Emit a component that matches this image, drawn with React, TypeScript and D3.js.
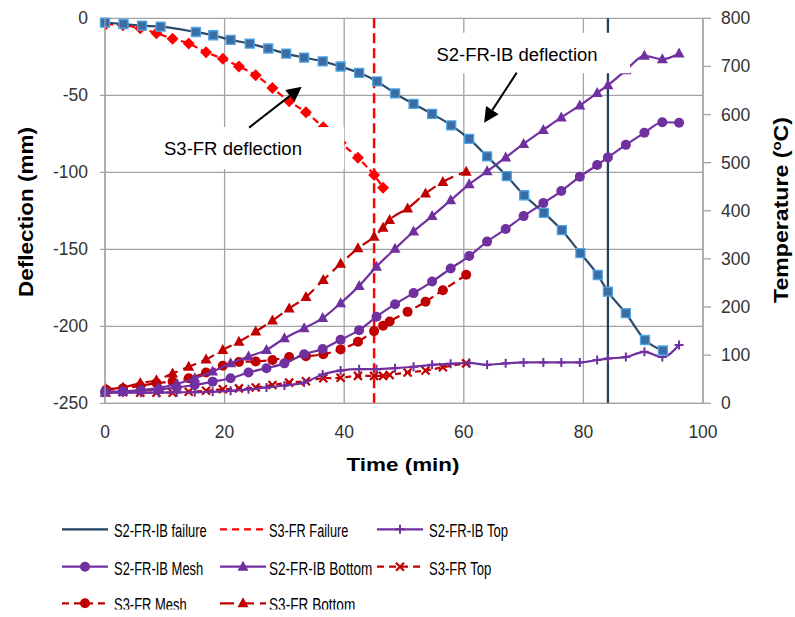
import React from 'react';
import * as d3 from 'd3';

// ---------- DATA ----------
const xTicks = [0, 20, 40, 60, 80, 100];
const leftTicks = [0, -50, -100, -150, -200, -250];
const rightTicks = [0, 100, 200, 300, 400, 500, 600, 700, 800];

// S2-FR-IB deflection (mm)
const s2DefTime = [0, 3.1, 6.2, 9.3, 15.2, 18.1, 21.0, 24.2, 27.3, 30.3, 33.3, 36.4, 39.4, 42.5, 45.5, 48.5, 51.6, 54.7, 57.9, 60.9, 63.9, 67.2, 70.1, 73.4, 76.4, 79.5, 82.4, 84.1, 87.1, 90.3, 93.3];
const s2Deflection = [-2.8, -3.7, -4.8, -5.4, -8.9, -11, -14, -16.4, -19.6, -22.9, -25.5, -28, -31.3, -35.4, -41, -48.8, -55.6, -62.1, -69.5, -78.3, -89.7, -102.5, -114.9, -126.3, -137.6, -152.5, -166.7, -177.5, -191.5, -208.9, -215.7];

// S2-FR-IB temperatures (°C)
const s2TempTime = [0, 3, 6, 9, 12, 15, 18, 21, 24, 27, 30, 33.3, 36.4, 39.4, 42.5, 45.4, 48.5, 51.6, 54.7, 57.8, 60.9, 63.9, 67.0, 70.0, 73.3, 76.3, 79.4, 82.3, 84.1, 87.1, 90.2, 93.2, 96.0];
const s2Top = [22, 22, 22, 22, 23, 23, 24, 26, 29, 33, 37, 43, 60, 68, 71, 71, 73, 76, 80, 82, 84, 80, 83, 85, 85, 85, 85, 90, 93, 96, 107, 96, 121];
const s2Mesh = [24, 25, 27, 29, 33, 38, 45, 52, 64, 73, 83, 102, 113, 132, 152, 180, 206, 229, 253, 280, 306, 336, 362, 389, 416, 441, 471, 495, 511, 537, 562, 584, 583];
const s2Bottom = [22, 24, 27, 32, 40, 52, 66, 83, 97, 111, 135, 156, 177, 208, 244, 284, 321, 357, 389, 422, 455, 482, 511, 539, 568, 594, 619, 645, 661, 692, 722, 715, 727];

// S3-FR
const s3Time = [0.2, 3.0, 5.9, 8.6, 11.3, 14.0, 16.9, 19.7, 22.4, 25.2, 28.0, 30.8, 33.6, 36.5, 39.4, 42.3, 45.0, 46.5, 47.6, 50.6, 53.6, 56.5, 60.4];
const s3Deflection = [-3.7, -4.5, -6.5, -9.7, -13.2, -16.4, -22, -26.3, -31.3, -36.9, -45.3, -53.9, -61, -70.8, -80.8, -90.6, -101.8, -110];
const s3Top = [22, 23, 22, 22, 22, 24, 26, 29, 31, 33, 38, 43, 46, 52, 53, 57, 57, 57, 59, 64, 68, 75, 83];
const s3Mesh = [28, 31, 36, 42, 45, 52, 64, 78, 86, 87, 90, 96, 98, 102, 112, 128, 150, 161, 170, 190, 211, 235, 267];
const s3Bottom = [29, 33, 42, 48, 62, 76, 91, 111, 128, 149, 172, 197, 221, 256, 290, 322, 346, 365, 381, 405, 436, 460, 481];

// failure times (min)
const s2FailureTime = 84.1;
const s3FailureTime = 45.0;

// ---------- STYLE ----------
const NAVY = '#2B4A6C';
const NAVY_FAIL = '#22405F';
const SQ_FILL = '#3C6CA4';
const SQ_STROKE = '#4EA5E4';
const RED = '#FF0000';
const DRED = '#C00000';
const PURPLE = '#7030A0';
const GRID = '#A3A3A3';
const FONT = '"Liberation Sans", Arial, Helvetica, sans-serif';

type Marker = 'square' | 'diamond' | 'triangle' | 'circle' | 'plus' | 'cross' | 'none';

function MarkerShape({ type, cx, cy, color, fill, stroke }: { type: Marker; cx: number; cy: number; color: string; fill?: string; stroke?: string }) {
  const t = `translate(${cx},${cy})`;
  switch (type) {
    case 'square': {
      const s = 9;
      return <path transform={t} d={`M${-s / 2},${-s / 2}h${s}v${s}h${-s}Z`} fill={fill || color} stroke={stroke || color} strokeWidth={1.3} />;
    }
    case 'diamond': {
      const s = 12;
      return <path transform={t} d={`M0,${-s / 2}L${s / 2},0L0,${s / 2}L${-s / 2},0Z`} fill={color} />;
    }
    case 'triangle': {
      const w = 11, h = 10;
      return <path transform={t} d={`M0,${-h * 0.6}L${w / 2},${h * 0.4}L${-w / 2},${h * 0.4}Z`} fill={color} />;
    }
    case 'circle':
      return <circle cx={cx} cy={cy} r={5} fill={color} />;
    case 'plus': {
      const s = 4.5;
      return <path transform={t} d={`M${-s},0H${s}M0,${-s}V${s}`} stroke={color} strokeWidth={2} fill="none" />;
    }
    case 'cross': {
      const s = 4;
      return <path transform={t} d={`M${-s},${-s}L${s},${s}M${-s},${s}L${s},${-s}`} stroke={color} strokeWidth={2.2} fill="none" />;
    }
    default:
      return null;
  }
}

export default function App() {
  const left = 105, right = 703, top = 18.3, bottom = 403.3;
  const x = d3.scaleLinear().domain([0, 100]).range([left, right]);
  const yL = d3.scaleLinear().domain([-250, 0]).range([bottom, top]);
  const yR = d3.scaleLinear().domain([0, 800]).range([bottom, top]);

  const mkLine = (ys: (v: number) => number) =>
    d3.line<[number, number]>().x(d => x(d[0])).y(d => ys(d[1])).curve(d3.curveMonotoneX);

  const zip = (a: number[], b: number[]) => b.map((v, i) => [a[i], v] as [number, number]);

  const series = [
    { name: 'S3-FR Top', pts: zip(s3Time, s3Top), axis: yR, color: DRED, dash: '6,4', marker: 'cross' as Marker },
    { name: 'S3-FR Mesh', pts: zip(s3Time, s3Mesh), axis: yR, color: DRED, dash: '8,5', marker: 'circle' as Marker },
    { name: 'S3-FR Bottom', pts: zip(s3Time, s3Bottom), axis: yR, color: DRED, dash: '14,6', marker: 'triangle' as Marker },
    { name: 'S2-FR-IB Top', pts: zip(s2TempTime, s2Top), axis: yR, color: PURPLE, dash: undefined, marker: 'plus' as Marker },
    { name: 'S2-FR-IB Mesh', pts: zip(s2TempTime, s2Mesh), axis: yR, color: PURPLE, dash: undefined, marker: 'circle' as Marker },
    { name: 'S2-FR-IB Bottom', pts: zip(s2TempTime, s2Bottom), axis: yR, color: PURPLE, dash: undefined, marker: 'triangle' as Marker },
    { name: 'S3-FR deflection', pts: zip(s3Time, s3Deflection), axis: yL, color: RED, dash: '7,4', marker: 'diamond' as Marker },
    { name: 'S2-FR-IB deflection', pts: zip(s2DefTime, s2Deflection), axis: yL, color: NAVY, dash: undefined, marker: 'square' as Marker },
  ];

  // legend
  const legendItems = [
    { label: 'S2-FR-IB failure', color: NAVY_FAIL, dash: undefined, marker: 'none' as Marker, w: 92.7 },
    { label: 'S3-FR Failure', color: RED, dash: '7,5', marker: 'none' as Marker, w: 79.3 },
    { label: 'S2-FR-IB Top', color: PURPLE, dash: undefined, marker: 'plus' as Marker, w: 79 },
    { label: 'S2-FR-IB Mesh', color: PURPLE, dash: undefined, marker: 'circle' as Marker, w: 89.3 },
    { label: 'S2-FR-IB Bottom', color: PURPLE, dash: undefined, marker: 'triangle' as Marker, w: 103.3 },
    { label: 'S3-FR Top', color: DRED, dash: '7,5', marker: 'cross' as Marker, w: 62.3 },
    { label: 'S3-FR Mesh', color: DRED, dash: '7,5', marker: 'circle' as Marker, w: 72.7 },
    { label: 'S3-FR Bottom', color: DRED, dash: '14,6', marker: 'triangle' as Marker, w: 86.3 },
  ];
  const colX = [62, 220, 377];
  const colTextOff = [52, 49, 52];
  const rowY = [529.3, 566.7, 603.3];
  const lineLen = 46;

  // annotation geometry in data space
  const s3Box = { t0: 4.2, t1: 40.0, d0: -70.6, d1: -97.9 };
  const s2Box = { t0: 52.7, t1: 87.8, d0: -9.4, d1: -35.7 };
  const arrows = [
    { from: [24.1, -71.0], to: [32.9, -44.4] },
    { from: [68.85, -35.3], to: [63.4, -67.8] },
  ];

  const arrowEls = arrows.map((a, i) => {
    const x1 = x(a.from[0]), y1 = yL(a.from[1]);
    const x2 = x(a.to[0]), y2 = yL(a.to[1]);
    const ang = Math.atan2(y2 - y1, x2 - x1);
    const hl = 15, hw = 7.5;
    const bx = x2 - hl * Math.cos(ang), by = y2 - hl * Math.sin(ang);
    const px = -Math.sin(ang) * hw, py = Math.cos(ang) * hw;
    return (
      <g key={i}>
        <line x1={x1} y1={y1} x2={bx} y2={by} stroke="#000" strokeWidth={2} />
        <path d={`M${x2},${y2}L${bx + px},${by + py}L${bx - px},${by - py}Z`} fill="#000" />
      </g>
    );
  });

  return (
    <svg width={795} height={617} style={{ position: 'absolute', left: 0, top: 0, background: '#fff' }} fontFamily={FONT}>
      <defs>
        <clipPath id="legclip">
          <rect x={0} y={0} width={795} height={609.5} />
        </clipPath>
      </defs>
      <rect x={0} y={0} width={795} height={617} fill="#fff" />

      {/* gridlines */}
      {leftTicks.map(v => (
        <line key={'hg' + v} x1={left - 5} x2={right} y1={yL(v)} y2={yL(v)} stroke={GRID} strokeWidth={1.3} />
      ))}
      {xTicks.map(v => (
        <line key={'vg' + v} x1={x(v)} x2={x(v)} y1={top} y2={bottom} stroke={GRID} strokeWidth={1.3} />
      ))}
      {rightTicks.map(v => (
        <line key={'rt' + v} x1={right} x2={right + 8} y1={yR(v)} y2={yR(v)} stroke={GRID} strokeWidth={1.3} />
      ))}

      {/* failure lines */}
      <line x1={x(s2FailureTime)} x2={x(s2FailureTime)} y1={top} y2={bottom} stroke={NAVY_FAIL} strokeWidth={2.3} />
      <line x1={x(s3FailureTime)} x2={x(s3FailureTime)} y1={top} y2={bottom} stroke={RED} strokeWidth={2.5} strokeDasharray="10,5" />

      {/* series */}
      {series.map(s => (
        <g key={s.name}>
          <path d={mkLine(s.axis)(s.pts) || ''} fill="none" stroke={s.color} strokeWidth={2.2} strokeDasharray={s.dash} />
          {s.pts.map((p, i) => (
            <MarkerShape key={i} type={s.marker} cx={x(p[0])} cy={s.axis(p[1])} color={s.color}
              fill={s.marker === 'square' ? SQ_FILL : undefined} stroke={s.marker === 'square' ? SQ_STROKE : undefined} />
          ))}
        </g>
      ))}

      {/* annotation boxes */}
      <rect x={x(s3Box.t0)} y={yL(s3Box.d0)} width={x(s3Box.t1) - x(s3Box.t0)} height={yL(s3Box.d1) - yL(s3Box.d0)} fill="#fff" />
      <rect x={x(s2Box.t0)} y={yL(s2Box.d0)} width={x(s2Box.t1) - x(s2Box.t0)} height={yL(s2Box.d1) - yL(s2Box.d0)} fill="#fff" />
      <text x={x(21.4)} y={yL(-88.8)} textAnchor="middle" fontSize={18} fill="#000" textLength={138} lengthAdjust="spacingAndGlyphs">S3-FR deflection</text>
      <text x={x(68.9)} y={yL(-27.7)} textAnchor="middle" fontSize={18} fill="#000" textLength={161} lengthAdjust="spacingAndGlyphs">S2-FR-IB deflection</text>
      {arrowEls}

      {/* axes lines */}
      <line x1={left} x2={left} y1={top} y2={bottom} stroke={GRID} strokeWidth={1.3} />
      <line x1={right} x2={right} y1={top} y2={bottom} stroke={GRID} strokeWidth={1.3} />
      <line x1={left} x2={right} y1={bottom} y2={bottom} stroke={GRID} strokeWidth={1.3} />

      {/* tick labels */}
      {leftTicks.map(v => (
        <text key={'lt' + v} x={88} y={yL(v) + 6} textAnchor="end" fontSize={17.5} fill="#333">{v}</text>
      ))}
      {rightTicks.map(v => (
        <text key={'rtl' + v} x={721} y={yR(v) + 6} textAnchor="start" fontSize={17.5} fill="#333">{v}</text>
      ))}
      {xTicks.map(v => (
        <text key={'xt' + v} x={x(v)} y={438} textAnchor="middle" fontSize={17.5} fill="#333">{v}</text>
      ))}

      {/* axis titles */}
      <text x={403} y={471} textAnchor="middle" fontSize={19} fontWeight="bold" fill="#000" textLength={113} lengthAdjust="spacingAndGlyphs">Time (min)</text>
      <text transform="translate(33,212) rotate(-90)" textAnchor="middle" fontSize={20} fontWeight="bold" fill="#000" textLength={170} lengthAdjust="spacingAndGlyphs">Deflection (mm)</text>
      <text transform="translate(788,210) rotate(-90)" textAnchor="middle" fontSize={20} fontWeight="bold" fill="#000" textLength={186} lengthAdjust="spacingAndGlyphs">
        Temperature (<tspan fontSize={13} dy={-7}>o</tspan><tspan dy={7}>C)</tspan>
      </text>

      {/* legend */}
      <g clipPath="url(#legclip)">
        {legendItems.map((it, i) => {
          const c = i % 3, r = Math.floor(i / 3);
          const lx = colX[c], ly = rowY[r];
          return (
            <g key={it.label}>
              <line x1={lx} x2={lx + lineLen} y1={ly} y2={ly} stroke={it.color} strokeWidth={2.3} strokeDasharray={it.dash} />
              <MarkerShape type={it.marker} cx={lx + lineLen / 2} cy={ly} color={it.color} />
              <text x={lx + colTextOff[c]} y={ly + 8} fontSize={18} fill="#000" textLength={it.w} lengthAdjust="spacingAndGlyphs">{it.label}</text>
            </g>
          );
        })}
      </g>
    </svg>
  );
}
